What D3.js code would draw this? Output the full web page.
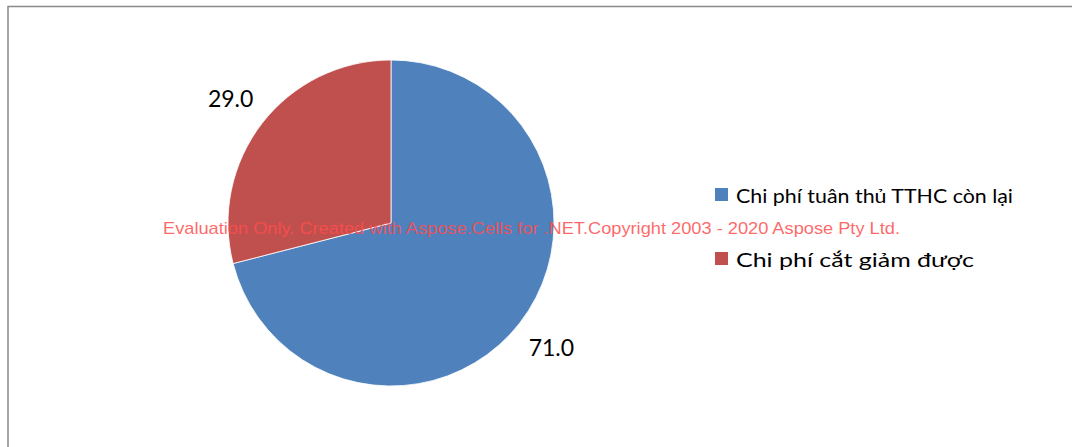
<!DOCTYPE html>
<html>
<head>
<meta charset="utf-8">
<script src="https://cdn.jsdelivr.net/npm/d3@7"></script>
<style>
  body { margin: 0; background: #fff; }
</style>
</head>
<body>
<script>
// chart data
let categories = ["Chi phí tuân thủ TTHC còn lại", "Chi phí cắt giảm được"];
let values = [71.0, 29.0];
let colors = ["#4F81BD", "#C0504D"];

function main(){
    let width = 1072;
    let height = 447;

    let svg = d3.select("body").append("svg")
        .attr("width", width)
        .attr("height", height);

    // chart area border
    svg.append("rect")
        .attr("x", 8)
        .attr("y", 6.5)
        .attr("width", 1080)
        .attr("height", 460)
        .attr("fill", "white")
        .attr("stroke", "#898989")
        .attr("stroke-width", 1.5);

    let cx = 391, cy = 223, radius = 163;

    let pie = d3.pie().sort(null).value(function(d){ return d; });
    let arc = d3.arc().innerRadius(0).outerRadius(radius);
    let arcs = pie(values);

    let pie_g = svg.append("g")
        .attr("transform", "translate(" + cx + ", " + cy + ")");

    pie_g.selectAll("path")
        .data(arcs)
        .enter()
        .append("path")
        .attr("d", arc)
        .attr("fill", function(d, i){ return colors[i]; })
        .attr("stroke", "white")
        .attr("stroke-width", 0.8);

    // data labels just outside the slices
    let labelArc = d3.arc().innerRadius(radius + 40).outerRadius(radius + 40);
    pie_g.selectAll("text.label")
        .data(arcs)
        .enter()
        .append("text")
        .attr("class", "label")
        .attr("x", function(d){ return labelArc.centroid(d)[0]; })
        .attr("y", function(d){ return labelArc.centroid(d)[1]; })
        .attr("text-anchor", "middle")
        .attr("dy", "0.36em")
        .attr("font-family", "Lato, sans-serif")
        .attr("font-size", 23)
        .attr("fill", "black")
        .text(function(d){ return d.data.toFixed(1); });

    // legend
    let legend = svg.append("g")
        .attr("transform", "translate(715, 188)");

    let items = legend.selectAll("g")
        .data(categories)
        .enter()
        .append("g")
        .attr("transform", function(d, i){ return "translate(0," + (i * 64) + ")"; });

    items.append("rect")
        .attr("width", 13)
        .attr("height", 13)
        .attr("fill", function(d, i){ return colors[i]; });

    items.append("text")
        .attr("x", 21)
        .attr("y", 15)
        .attr("font-family", "Lato, sans-serif")
        .attr("font-size", 20)
        .attr("fill", "black")
        .attr("textLength", function(d, i){ return i === 0 ? 277 : 238; })
        .attr("lengthAdjust", "spacingAndGlyphs")
        .text(function(d){ return d; });

    // watermark
    svg.append("text")
        .attr("x", 163)
        .attr("y", 234)
        .attr("font-family", "'Liberation Sans', Arial, sans-serif")
        .attr("font-size", 17)
        .attr("fill", "#ff4d4d")
        .attr("fill-opacity", 0.85)
        .attr("textLength", 737)
        .attr("lengthAdjust", "spacingAndGlyphs")
        .text("Evaluation Only. Created with Aspose.Cells for .NET.Copyright 2003 - 2020 Aspose Pty Ltd.");
}

main();
</script>
</body>
</html>
